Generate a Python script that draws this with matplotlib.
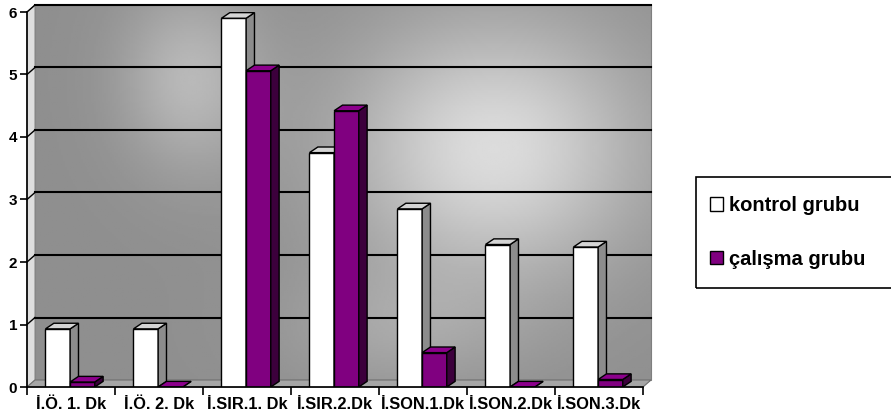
import numpy as np
import matplotlib.pyplot as plt
from matplotlib.patches import Polygon, Rectangle

plt.rcParams['font.family'] = ['Liberation Sans', 'DejaVu Sans']
plt.rcParams['font.weight'] = 'bold'

# data
categories = ['İ.Ö. 1. Dk', 'İ.Ö. 2. Dk', 'İ.SIR.1. Dk', 'İ.SIR.2.Dk',
              'İ.SON.1.Dk', 'İ.SON.2.Dk', 'İ.SON.3.Dk']
kontrol = [0.93, 0.93, 5.90, 3.75, 2.85, 2.28, 2.24]
calisma = [0.08, 0.0, 5.06, 4.42, 0.55, 0.0, 0.12]
series_names = ['kontrol grubu', 'çalışma grubu']

fig = plt.figure(figsize=(8.91, 4.19), dpi=100)
ax = fig.add_axes([27/891, 32/419, 616/891, 375/419])

# depth of the walls and the bars (data units)
dx, dy = 0.091, 0.112
bdx, bdy = 0.095, 0.09
n = len(categories)
x = np.arange(n)

# back wall gradient
W, H = 300, 200
u = np.linspace(0, 1, W)
v = np.linspace(0, 1, H)
U, V = np.meshgrid(u, v)
px = 35 + U * 617
py = 380 - V * 375
img = (0.56
       + 0.30 * np.exp(-((px - 495) / 150) ** 2 - ((py - 150) / 130) ** 2)
       + 0.16 * np.exp(-((px - 190) / 70) ** 2 - ((py - 80) / 90) ** 2)
       + 0.08 * np.exp(-((px - 400) / 120) ** 2 - ((py - 330) / 60) ** 2))
img = np.clip(img, 0, 1)
ax.imshow(img, extent=(-0.5 + dx, n - 0.5 + dx, dy, 6 + dy), origin='lower',
          aspect='auto', cmap='gray', vmin=0, vmax=1, zorder=0, clip_on=False)
ax.add_patch(Rectangle((-0.5 + dx, dy), n, 6, fill=False, ec='#7f7f7f',
                       lw=0.8, zorder=0.5, clip_on=False))

# side wall and floor
ax.add_patch(Polygon([(-0.5, 0), (-0.5 + dx, dy), (-0.5 + dx, 6 + dy), (-0.5, 6)],
                     closed=True, fc='#dedede', ec='#8a8a8a', lw=0.8, zorder=0.6,
                     clip_on=False))
ax.add_patch(Polygon([(-0.5, 0), (n - 0.5, 0), (n - 0.5 + dx, dy), (-0.5 + dx, dy)],
                     closed=True, fc='#a6a6a6', ec='#6f6f6f', lw=0.8, zorder=0.6,
                     clip_on=False))

# gridlines on back wall
for g in range(1, 7):
    ax.plot([-0.5 + dx, n - 0.5 + dx], [g + dy, g + dy], color='black', lw=1.5,
            zorder=1, clip_on=False)
    ax.plot([-0.5, -0.5 + dx], [g, g + dy], color='black', lw=1, zorder=1,
            clip_on=False)

w = 0.28
styles = [('white', '#8c8c8c', '#d4d4d4'), ('#800080', '#3c003c', '#8c008c')]
offsets = [-0.29, -0.01]
handles = []
for i in range(n):
    for s, vals in enumerate([kontrol, calisma]):
        front, side, top = styles[s]
        h = vals[i]
        x0 = x[i] + offsets[s]
        z = 2 + i * 2 + s
        b = ax.bar(x0, h, w, align='edge', color=front, edgecolor='black',
                   lw=1, zorder=z)
        ax.add_patch(Polygon([(x0 + w, 0), (x0 + w + bdx, bdy), (x0 + w + bdx, h + bdy),
                              (x0 + w, h)], closed=True, fc=side, ec='black', lw=1,
                             zorder=z))
        ax.add_patch(Polygon([(x0, h), (x0 + bdx, h + bdy), (x0 + w + bdx, h + bdy),
                              (x0 + w, h)], closed=True, fc=top, ec='black', lw=1,
                             zorder=z))
        if i == 0:
            handles.append(b)

ax.set_xlim(-0.5, n - 0.5)
ax.set_ylim(0, 6)
for sp in ['top', 'right']:
    ax.spines[sp].set_visible(False)
for sp in ['left', 'bottom']:
    ax.spines[sp].set_linewidth(1.2)
    ax.spines[sp].set_zorder(30)

ax.set_yticks(range(7))
ax.set_yticklabels([str(t) for t in range(7)], fontsize=11, fontweight='bold')
ax.tick_params(axis='y', direction='out', length=5, width=1.2, pad=2)
ax.set_xticks(np.arange(-0.5, n, 1))
ax.set_xticklabels([])
ax.tick_params(axis='x', which='major', direction='out', length=6, width=1.2)
ax.set_xticks(x, minor=True)
ax.set_xticklabels(categories, minor=True, fontsize=11.8, fontweight='bold')
ax.tick_params(axis='x', which='minor', length=0, pad=7)

# legend
fig.patches.append(Rectangle((696/891, (419 - 288)/419), 210/891, 111/419,
                             transform=fig.transFigure, fill=False, ec='black',
                             lw=1.2, clip_on=False))
fig.legend(handles, series_names, loc='upper left',
           bbox_to_anchor=(710/891, (419 - 196)/419), frameon=False,
           prop={'weight': 'bold', 'size': 14.5},
           handlelength=0.65, handleheight=0.65, handletextpad=0.3,
           labelspacing=1.72, borderpad=0, borderaxespad=0)

fig.savefig('out.png', dpi=100)
